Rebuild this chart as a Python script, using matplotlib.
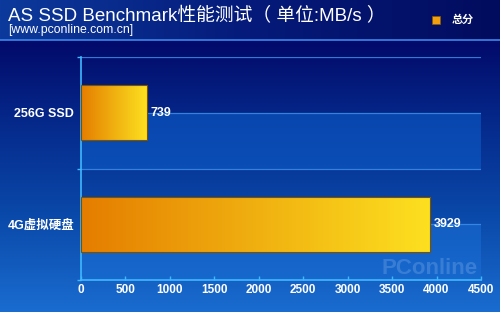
import matplotlib
matplotlib.use('Agg')
import matplotlib.pyplot as plt
import numpy as np
from matplotlib.colors import LinearSegmentedColormap

plt.rcParams['font.family'] = ['Liberation Sans', 'Noto Sans CJK SC', 'DejaVu Sans']

categories = ['4G虚拟硬盘', '256G SSD']
values = [3929, 739]
xticks = [0, 500, 1000, 1500, 2000, 2500, 3000, 3500, 4000, 4500]
title = 'AS SSD Benchmark性能测试（ 单位:MB/s ）'
subtitle = '[www.pconline.com.cn]'
legend_label = '总分'

fig = plt.figure(figsize=(5, 3.12), dpi=100)

# background gradient over the whole figure
bg = fig.add_axes([0, 0, 1, 1], zorder=0)
bg_cmap = LinearSegmentedColormap.from_list(
    'bg', [(0, '#1a6cd0'), (0.3, '#0a4aaa'), (0.6, '#052a8c'), (0.85, '#020c6c'), (1, '#020a62')])
gy = np.linspace(0, 1, 256).reshape(-1, 1)
bg.imshow(np.tile(gy, (1, 10)), cmap=bg_cmap, aspect='auto', extent=[0, 1, 0, 1],
          origin='lower', vmin=0, vmax=1)
# header band
hdr_cmap = LinearSegmentedColormap.from_list('hdr', ['#0c3a9c', '#051a7a', '#020c5e'])
bg.imshow(np.tile(np.linspace(0, 1, 256), (10, 1)), cmap=hdr_cmap, aspect='auto',
          extent=[0, 1, 1 - 40 / 312, 1], origin='lower')
bg.axhline(1 - 40 / 312, color='#3d86e8', lw=1.2)
bg.set_xlim(0, 1)
bg.set_ylim(0, 1)
bg.axis('off')

bg.text(8 / 500, 1 - 16 / 312, title, color='white', fontsize=13.5, va='center', ha='left')
bg.text(8 / 500, 1 - 30 / 312, subtitle, color='white', fontsize=8.8, va='center', ha='left')
bg.add_patch(plt.Rectangle((432 / 500, 1 - 24 / 312), 8 / 500, 8 / 312, facecolor='#f0a010',
                           edgecolor='#8a5a00', lw=0.5))
bg.text(452 / 500, 1 - 20 / 312, legend_label, color='white', fontsize=8, fontweight='bold',
        va='center', ha='left')
# faint watermark
bg.text(430 / 500, 1 - 268 / 312, 'PConline', color='white', alpha=0.3, fontsize=16,
        fontweight='bold', ha='center', va='center')

ax = fig.add_axes([81 / 500, 32 / 312, 400 / 500, 223 / 312], zorder=1)
ax.patch.set_alpha(0)

ax.axhspan(0.5, 1.0, color='#0c5cc8', alpha=0.6, lw=0)
ax.axhspan(-0.5, 0.0, color='#1a70d8', alpha=0.5, lw=0)
for yl in [1.5, 1.0, 0.5, 0.0]:
    ax.axhline(yl, color='#3c8ee8', lw=0.9, alpha=0.85)

bar_cmap = LinearSegmentedColormap.from_list('bar', ['#e57d00', '#f0b010', '#fde020'])
pos = np.arange(len(categories))
bars = ax.barh(pos, values, height=0.49, color='none', edgecolor='#7a5200', lw=0.8, zorder=3)
for b, p, v in zip(bars, pos, values):
    x0, y0 = b.get_x(), b.get_y()
    im = ax.imshow(np.linspace(0, 1, 256).reshape(1, -1), cmap=bar_cmap, aspect='auto',
                   extent=[x0, x0 + b.get_width(), y0, y0 + b.get_height()], zorder=2)
    im.set_clip_path(b)
    ax.text(v + 40, p, str(v), color='white', fontsize=9, fontweight='bold',
            va='center', ha='left', zorder=4)
ax.set_xlim(0, 4500)
ax.set_ylim(-0.5, 1.5)

ax.set_xticks(xticks)
ax.set_xticklabels([str(t) for t in xticks])
ax.set_yticks(pos)
ax.set_yticklabels(categories)
ax.set_yticks([-0.5, 0.5, 1.5], minor=True)
ax.tick_params(axis='y', which='major', length=0, pad=5, labelcolor='white', labelsize=9)
ax.tick_params(axis='y', which='minor', length=3, color='#40b8ff', width=1)
ax.tick_params(axis='x', length=3, direction='in', color='#40b8ff', width=1,
               labelcolor='white', labelsize=8.5, pad=3)
for lab in ax.get_xticklabels() + ax.get_yticklabels():
    lab.set_fontweight('bold')

for s in ['top', 'right']:
    ax.spines[s].set_visible(False)
ax.spines['left'].set_color('#40b8ff')
ax.spines['bottom'].set_color('#40b8ff')
ax.spines['left'].set_linewidth(1.2)
ax.spines['bottom'].set_linewidth(1.2)

fig.savefig('out.png', dpi=100)
